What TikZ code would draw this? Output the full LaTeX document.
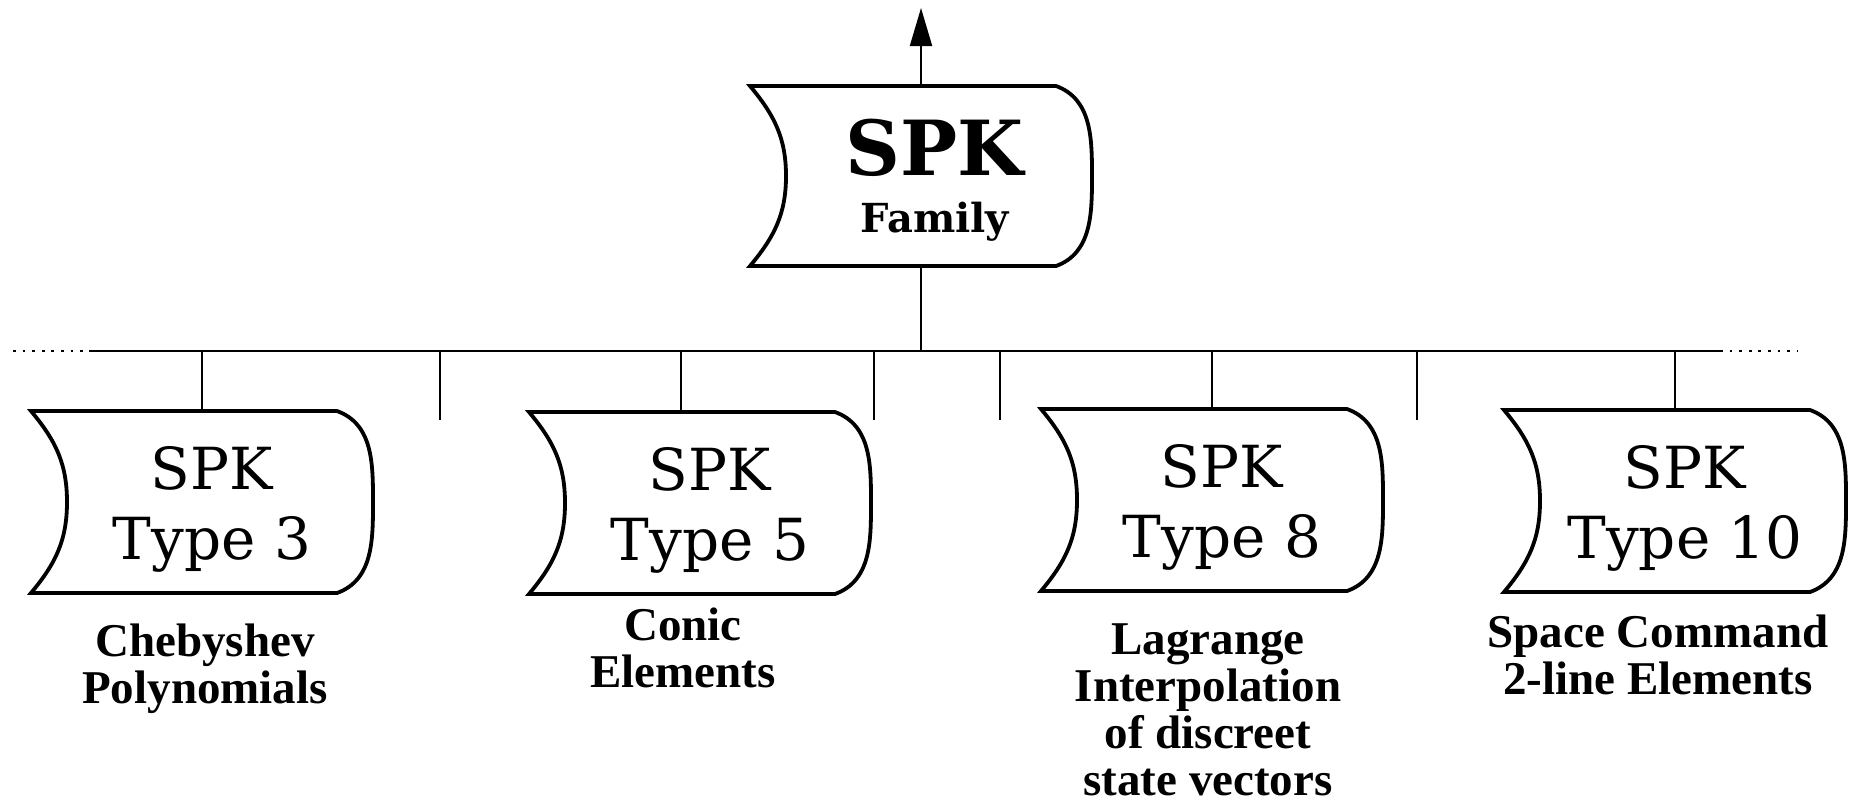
\documentclass[tikz,border=0pt]{standalone}
\usepackage{fontspec}
\newfontfamily\boxfont{DejaVu Serif}
\newfontfamily\descfont{Liberation Serif}
\usetikzlibrary{arrows.meta,positioning}

\tikzset{
  spkbox/.style={minimum width=170pt,minimum height=90pt,inner sep=0pt,
    append after command={\pgfextra{\let\spknode\tikzlastnode
      \draw[line width=1.9pt]
        (\spknode.north) -- ([xshift=-18pt]\spknode.north east)
        to[out=-20,in=90] (\spknode.east)
        to[out=-90,in=20] ([xshift=-18pt]\spknode.south east)
        -- (\spknode.south west)
        to[out=50,in=-90] ([xshift=18pt]\spknode.west)
        to[out=90,in=-50] (\spknode.north west) -- cycle;}}},
  spktxt/.style={align=center,xshift=5pt,yshift=-3.5pt,font=\boxfont\fontsize{29}{35}\selectfont},
  famtxt/.style={align=center,xshift=7pt,yshift=-2pt,font=\boxfont\bfseries\fontsize{20}{28.5}\selectfont},
  desc/.style={align=center,anchor=base,font=\descfont\bfseries\fontsize{23.5}{23.5}\selectfont},
  dotline/.style={line width=1.3pt,dash pattern=on 1.4pt off 3.4pt},
}

\begin{document}
\begin{tikzpicture}[x=0.5pt,y=-0.5pt,>={Triangle[length=19pt,width=11pt]},line width=1pt]
\useasboundingbox (0,0) rectangle (1856,809);

\node[spkbox,minimum height=89pt,label={[famtxt]center:{\fontsize{38}{38}\selectfont SPK}\\Family}] (fam) at (921,176) {};
\node[spkbox,label={[spktxt]center:SPK\\Type 3}] (t3) at (202,502) {};
\node[spkbox,label={[spktxt]center:SPK\\Type 5}] (t5) at (700,503) {};
\node[spkbox,label={[spktxt]center:SPK\\Type 8}] (t8) at (1212,500) {};
\node[spkbox,label={[spktxt]center:SPK\\Type 10}] (t10) at (1675,501) {};

\node[desc] (d3) at (205,703) {Chebyshev\\Polynomials};
\node[desc] (d5) at (683,687) {Conic\\Elements};
\node[desc] (d8) at (1208,795) {Lagrange\\Interpolation\\of discreet\\state vectors};
\node[desc] (d10) at (1658,694) {Space Command\\2-line Elements};

\coordinate (up) at (921,8);
\coordinate (busL) at (89,351);
\coordinate (busR) at (1720,351);
\coordinate (dotL) at (13,351);
\coordinate (dotR) at (1797,351);

\draw[->] (fam.north) -- (up);
\draw (busL) -- (busR);
\draw[dotline] (dotL) -- (busL);
\draw[dotline] (busR) -- (dotR);
\draw (fam.south) -- (fam.south |- busL);
\foreach \n in {t3,t8,t10}
  \draw (\n.north) -- (\n.north |- busL);
\path ([xshift=-9.5pt]t5.north) coordinate (s5);
\draw (s5) -- (s5 |- busL);
\foreach \x in {440,874,1000,1417}
  \draw (\x,351) -- (\x,420);
\end{tikzpicture}
\end{document}
